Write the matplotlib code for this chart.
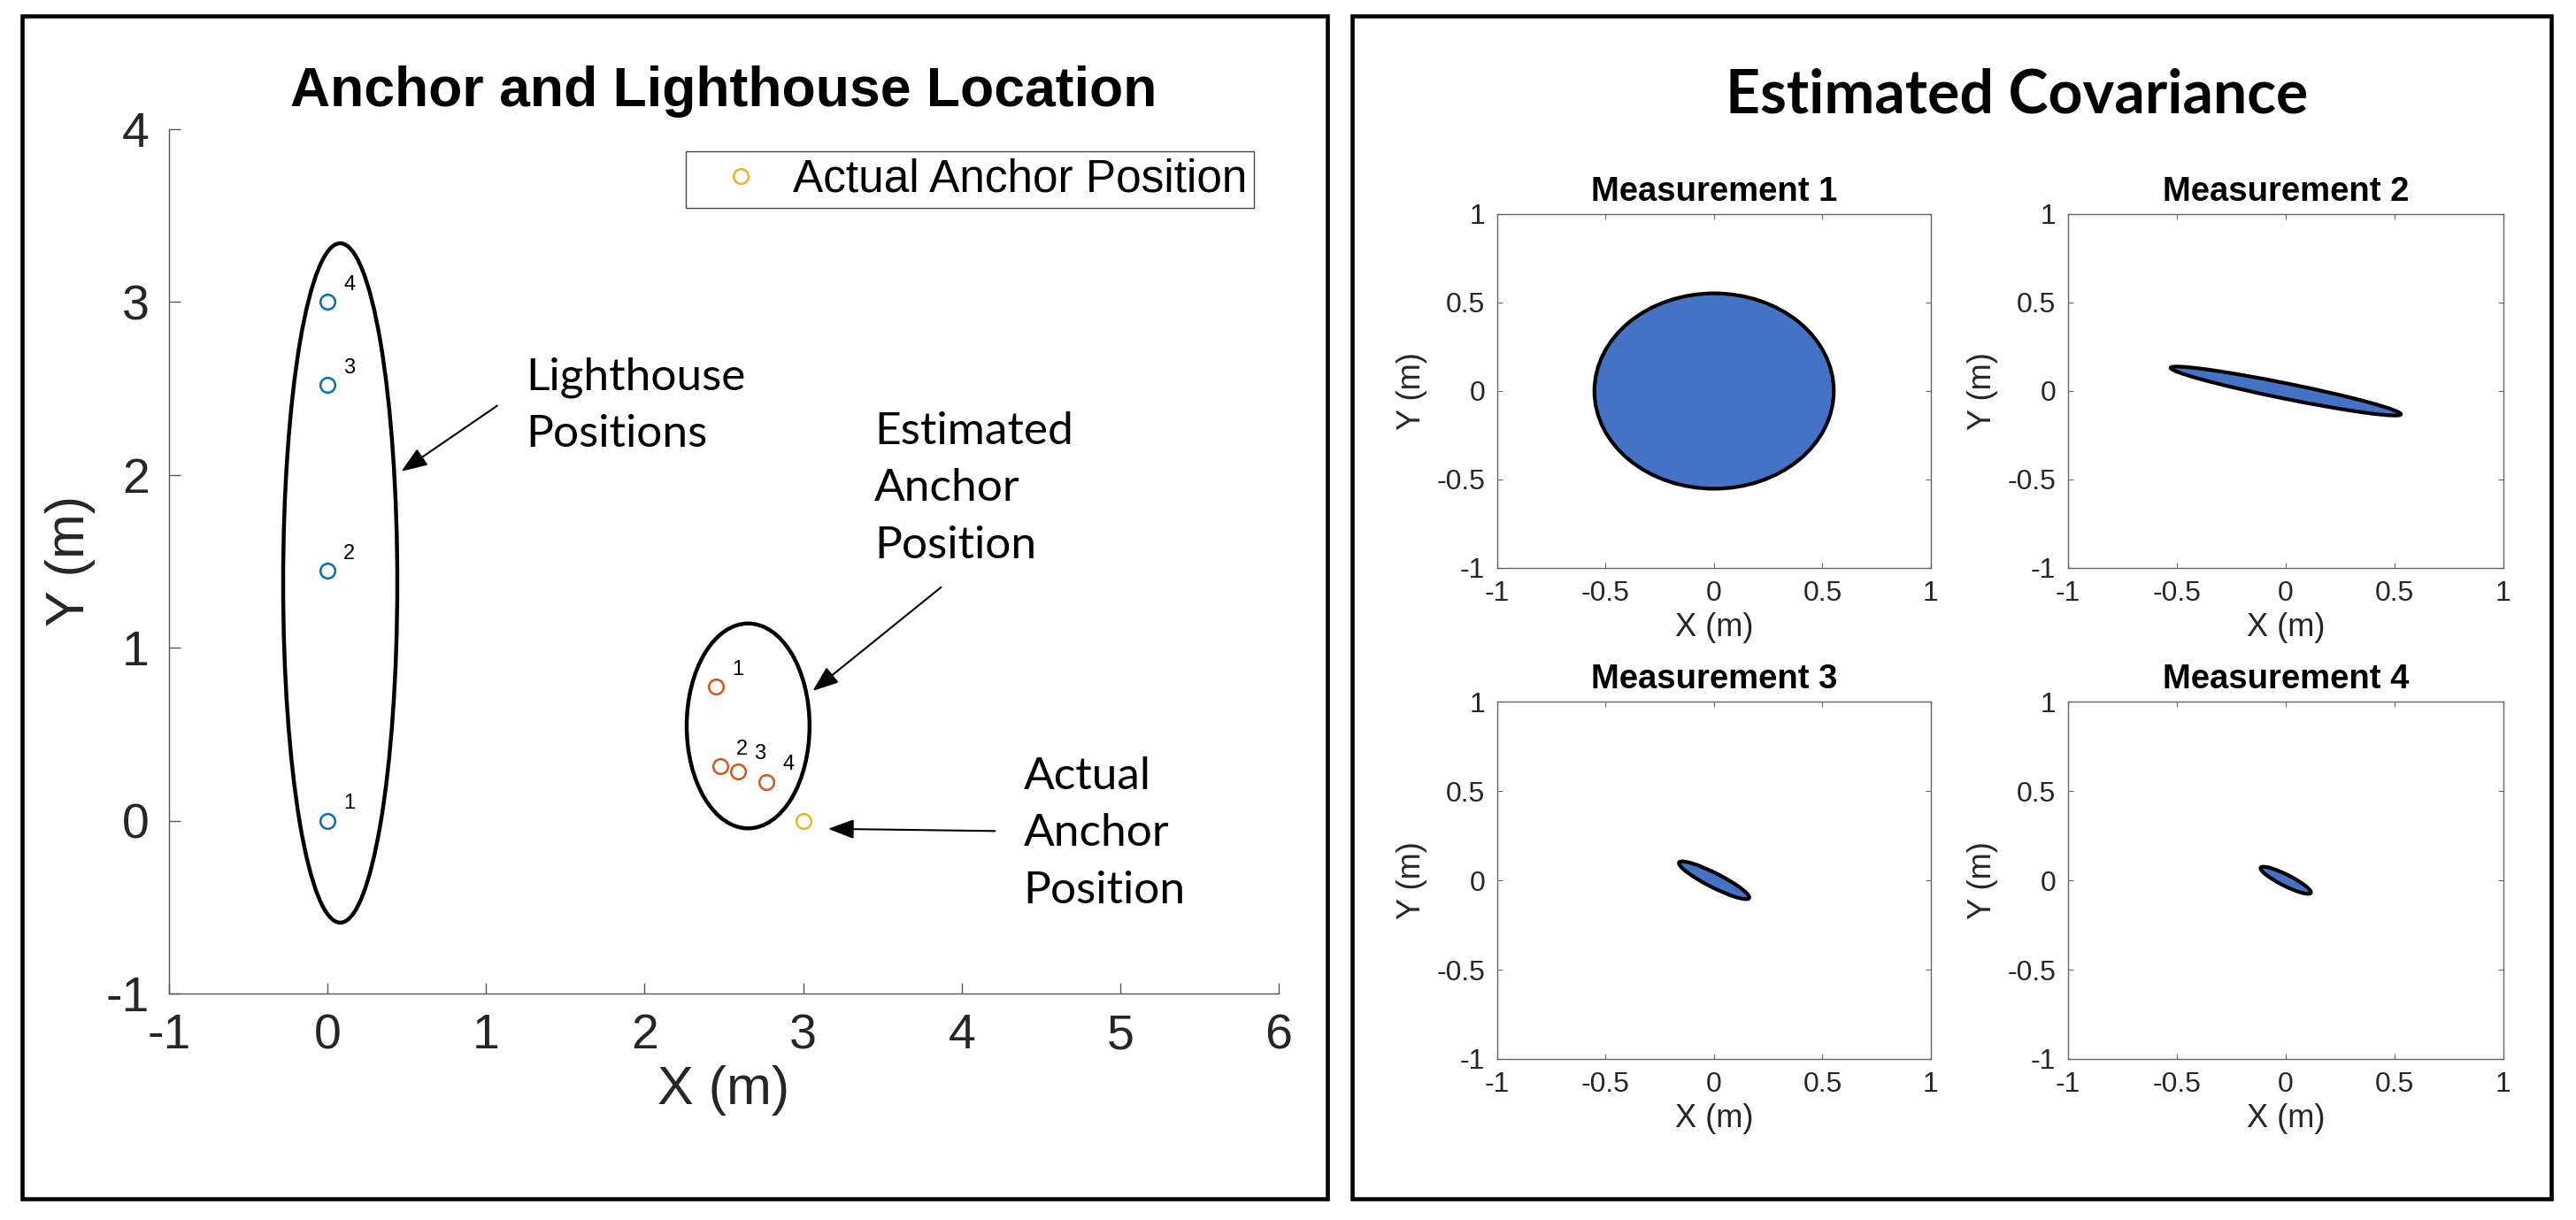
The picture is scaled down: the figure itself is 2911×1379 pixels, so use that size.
import numpy as np
import matplotlib.pyplot as plt
from matplotlib.patches import Ellipse, Rectangle

W, H = 2911, 1379

# lighthouse and anchor positions (m)
lh_x = [0.0, 0.0, 0.0, 0.0]
lh_y = [0.0, 1.445, 2.52, 3.0]
est_x = [2.45, 2.475, 2.59, 2.77]
est_y = [0.775, 0.315, 0.285, 0.225]
act_x = [3.0]
act_y = [0.0]
point_ids = ['1', '2', '3', '4']

# enclosing ellipses: center x, center y, width, height
lh_ell = [0.08, 1.375, 0.72, 3.93]
est_ell = [2.653, 0.548, 0.775, 1.185]

# covariance ellipses per measurement: semi-major, semi-minor, angle (deg)
cov_a = [0.552, 0.545, 0.19, 0.135]
cov_b = [0.552, 0.043, 0.038, 0.030]
cov_ang = [90.0, -14.0, -32.0, -32.0]
cov_titles = ['Measurement 1', 'Measurement 2', 'Measurement 3', 'Measurement 4']

sub_ticks = [-1, -0.5, 0, 0.5, 1]
sub_ticklabels = ['-1', '-0.5', '0', '0.5', '1']

BLUE = '#0072BD'
ORANGE = '#D95319'
YELLOW = '#EDB120'
FILL = '#4472C4'
AXC = '#262626'

plt.rcParams['font.family'] = ['Liberation Sans', 'DejaVu Sans']
plt.rcParams['axes.unicode_minus'] = False


def px(x0, y0, x1, y1):
    # pixel box (top-left origin) -> figure fraction rect
    return [x0 / W, 1 - y1 / H, (x1 - x0) / W, (y1 - y0) / H]


fig = plt.figure(figsize=(W / 100, H / 100), dpi=100)

# outer frames
for x0, x1 in [(25, 1500), (1528, 2883)]:
    r = Rectangle((x0 / W, 1 - 1355 / H), (x1 - x0) / W, (1355 - 18) / H,
                  transform=fig.transFigure, fill=False, lw=3.3, ec='black')
    fig.patches.append(r)

# ---------------- left: anchor and lighthouse location
ax = fig.add_axes(px(191, 146, 1445, 1123))
ax.set_xlim(-1, 6)
ax.set_ylim(-1, 4)
for s in ['top', 'right']:
    ax.spines[s].set_visible(False)
for s in ['left', 'bottom']:
    ax.spines[s].set_color('#555555')
    ax.spines[s].set_linewidth(1.0)
ax.tick_params(direction='in', length=9, width=1.0, color='#555555',
               labelsize=40, labelcolor=AXC, pad=16)
ax.set_xticks(range(-1, 7))
ax.set_yticks(range(-1, 5))

ax.add_patch(Ellipse((lh_ell[0], lh_ell[1]), lh_ell[2], lh_ell[3],
                     fill=False, lw=3.2, ec='black'))
ax.add_patch(Ellipse((est_ell[0], est_ell[1]), est_ell[2], est_ell[3],
                     fill=False, lw=3.2, ec='black'))

mk = dict(linestyle='none', marker='o', markerfacecolor='none',
          markersize=12, markeredgewidth=1.8)
ax.plot(lh_x, lh_y, color=BLUE, **mk)
ax.plot(est_x, est_y, color=ORANGE, **mk)
ax.plot(act_x, act_y, color=YELLOW, label='Actual Anchor Position', **mk)

for xs, ys in [(lh_x, lh_y), (est_x, est_y)]:
    for x, y, t in zip(xs, ys, point_ids):
        ax.text(x + 0.1, y + 0.1, t, fontsize=17, ha='left', va='center')

ax.set_title('Anchor and Lighthouse Location', fontsize=45,
             fontweight='bold', pad=19)
ax.set_xlabel('X (m)', fontsize=44, color=AXC)
ax.set_ylabel('Y (m)', fontsize=44, color=AXC)
ax.xaxis.set_label_coords(0.5, -0.083)
ax.yaxis.set_label_coords(-0.066, 0.5)

leg = ax.legend(loc='upper right', bbox_to_anchor=(0.9777, 0.9744),
                borderaxespad=0, fontsize=37, frameon=True, fancybox=False,
                framealpha=1, borderpad=0.15, handlelength=2.1,
                handletextpad=0.1, numpoints=1)
leg.get_frame().set_edgecolor('#444444')
leg.get_frame().set_linewidth(1.0)

note = dict(fontsize=37, family=['Lato', 'DejaVu Sans'], ha='left',
            va='center', linespacing=1.5)
ax.text(1.25, 2.40, 'Lighthouse\nPositions', **note)
ax.text(3.45, 1.92, 'Estimated\nAnchor\nPosition', **note)
ax.text(4.39, -0.075, 'Actual\nAnchor\nPosition', **note)

arr = dict(arrowstyle='-|>,head_length=0.4,head_width=0.15', color='black',
           lw=1.5, mutation_scale=45, shrinkA=0, shrinkB=0)
ax.annotate('', xy=(0.465, 2.02), xytext=(1.07, 2.40), arrowprops=arr)
ax.annotate('', xy=(3.06, 0.75), xytext=(3.87, 1.35), arrowprops=arr)
ax.annotate('', xy=(3.157, -0.047), xytext=(4.21, -0.06), arrowprops=arr)

# ---------------- right: estimated covariance
fig.text(2279 / W, 1 - 128 / H, 'Estimated Covariance', fontsize=49,
         fontweight='bold', family=['Lato', 'DejaVu Sans'],
         ha='center', va='baseline')

boxes = [(1692, 242, 2182, 642), (2337, 242, 2829, 642),
         (1692, 793, 2182, 1197), (2337, 793, 2829, 1197)]
for i, b in enumerate(boxes):
    sa = fig.add_axes(px(*b))
    sa.set_xlim(-1, 1)
    sa.set_ylim(-1, 1)
    for s in sa.spines.values():
        s.set_color('#666666')
        s.set_linewidth(1.0)
    sa.set_xticks(sub_ticks)
    sa.set_yticks(sub_ticks)
    sa.set_xticklabels(sub_ticklabels)
    sa.set_yticklabels(sub_ticklabels)
    sa.tick_params(direction='in', length=4, width=0.8, color='#666666',
                   labelsize=23, labelcolor=AXC, pad=10,
                   top=True, right=True)
    sa.add_patch(Ellipse((0, 0), 2 * cov_a[i], 2 * cov_b[i], angle=cov_ang[i],
                         fc=FILL, ec='black', lw=3.0))
    sa.set_title(cov_titles[i], fontsize=27.5, fontweight='bold', pad=10.8)
    sa.set_xlabel('X (m)', fontsize=26, color=AXC)
    sa.set_ylabel('Y (m)', fontsize=26, color=AXC)
    sa.xaxis.set_label_coords(0.5, -0.124)
    sa.yaxis.set_label_coords(-0.161, 0.5)

fig.savefig('out.png', dpi=100)
